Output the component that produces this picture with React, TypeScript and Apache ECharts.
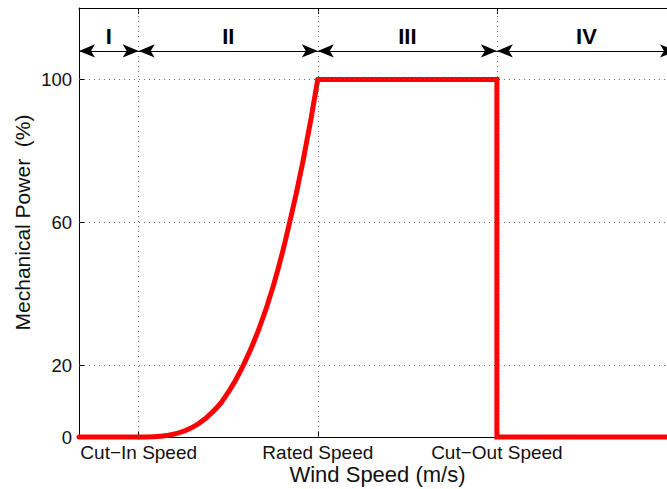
import { useEffect, useRef } from 'react';
import * as echarts from 'echarts';

// Axis marks
const speedMarks = [1, 4, 7];
const speedMarkLabels = ['Cut−In Speed', 'Rated Speed', 'Cut−Out Speed'];
const powerTicks = [0, 20, 60, 100];
const powerGrid = [20, 60, 100];
const speedRange = [0, 10];
const powerRange = [0, 120];

// Region I: below cut-in speed
const regionISpeed = [0, 1];
const regionIPower = [0, 0];
// Region II: cut-in to rated speed
const regionIISpeed = [1, 1.25, 1.5, 1.75, 2, 2.25, 2.5, 2.75, 3, 3.25, 3.5, 3.75, 4];
const regionIIPower = [0, 0.1, 0.5, 1.6, 3.7, 7.2, 12.5, 20, 29.6, 42, 58, 77, 100];
// Regions III and IV: rated output, then shutdown past cut-out
const regionIIISpeed = [4, 7, 7, 10];
const regionIIIPower = [100, 100, 0, 0];

// Operating regions annotated above the curve
const regionNames = ['I', 'II', 'III', 'IV'];
const regionBounds = [0, 1, 4, 7, 10];
const regionArrowLevel = 108;

const FONT = '"Liberation Sans", Arial, Helvetica, sans-serif';
const pairs = (xs: number[], ys: number[]) => xs.map((x, i) => [x, ys[i]]);

export default function App() {
  const ref = useRef<HTMLDivElement>(null);

  useEffect(() => {
    if (!ref.current) return;
    const chart = echarts.init(ref.current, null, { renderer: 'svg' });

    const speedLabel = (v: number) => {
      const i = speedMarks.indexOf(v);
      return i >= 0 ? speedMarkLabels[i] : '';
    };

    const redLine = {
      type: 'line',
      showSymbol: false,
      symbol: 'none',
      clip: false,
      z: 3,
      silent: true,
      lineStyle: { color: '#ff0000', width: 5, cap: 'round', join: 'miter' },
    };

    chart.setOption({
      animation: false,
      // the plot runs a little past the right edge of the page
      grid: {
        left: 79,
        top: 8,
        width: 597,
        height: 429,
        containLabel: false,
        outerBoundsMode: 'none',
      },
      xAxis: [
        {
          type: 'value',
          min: speedRange[0],
          max: speedRange[1],
          interval: 1,
          position: 'bottom',
          axisLine: { show: true, onZero: false, lineStyle: { color: '#000', width: 1 } },
          axisTick: { show: true, inside: true, length: 6, customValues: speedMarks, lineStyle: { color: '#000' } },
          axisLabel: {
            show: true,
            customValues: speedMarks,
            formatter: speedLabel,
            color: '#111',
            fontSize: 19,
            fontFamily: FONT,
            margin: 6,
          },
          splitLine: { show: false },
          name: 'Wind Speed (m/s)',
          nameLocation: 'middle',
          nameGap: 26,
          nameMoveOverlap: false,
          nameTextStyle: { fontSize: 22, color: '#111', fontFamily: FONT, lineHeight: 22 },
        },
        {
          type: 'value',
          min: speedRange[0],
          max: speedRange[1],
          interval: 1,
          position: 'top',
          axisLine: { show: true, onZero: false, lineStyle: { color: '#000', width: 1 } },
          axisTick: { show: true, inside: true, length: 6, customValues: speedMarks, lineStyle: { color: '#000' } },
          axisLabel: { show: false },
          splitLine: { show: false },
        },
      ],
      yAxis: {
        type: 'value',
        min: powerRange[0],
        max: powerRange[1],
        interval: 20,
        axisLine: { show: true, onZero: false, lineStyle: { color: '#000', width: 1 } },
        axisTick: { show: true, inside: true, length: 6, customValues: powerTicks, lineStyle: { color: '#000' } },
        axisLabel: {
          show: true,
          customValues: powerTicks,
          color: '#111',
          fontSize: 18.5,
          fontFamily: FONT,
          margin: 7,
        },
        splitLine: { show: false },
        name: 'Mechanical Power  (%)',
        nameLocation: 'middle',
        nameGap: 46,
        nameMoveOverlap: false,
        nameTextStyle: { fontSize: 21, color: '#111', fontFamily: FONT },
      },
      series: [
        {
          // dotted reference grid
          type: 'line',
          data: [],
          z: 1,
          silent: true,
          markLine: {
            silent: true,
            symbol: 'none',
            label: { show: false },
            emphasis: { disabled: true },
            lineStyle: { color: '#6a6a6a', width: 1, type: [1, 4] },
            data: [
              ...powerGrid.map((v) => ({ yAxis: v })),
              ...speedMarks.map((v) => ({ xAxis: v })),
            ],
          },
        },
        {
          // region arrows and numerals
          type: 'line',
          data: [],
          z: 2,
          silent: true,
          markLine: {
            silent: true,
            symbol: ['arrow', 'arrow'],
            symbolSize: [10, 16],
            itemStyle: { color: '#000' },
            emphasis: { disabled: true },
            lineStyle: { color: '#000', width: 1, type: 'solid' },
            label: {
              show: true,
              position: 'insideMiddleTop',
              distance: 3,
              formatter: (p: any) => p.name,
              fontSize: 22,
              fontWeight: 'bold',
              color: '#000',
              fontFamily: FONT,
            },
            data: regionNames.map((name, i) => [
              { name, coord: [regionBounds[i], regionArrowLevel] },
              { coord: [regionBounds[i + 1], regionArrowLevel] },
            ]),
          },
        },
        { ...redLine, data: pairs(regionISpeed, regionIPower) },
        { ...redLine, smooth: true, data: pairs(regionIISpeed, regionIIPower) },
        { ...redLine, data: pairs(regionIIISpeed, regionIIIPower) },
      ],
    });

    return () => chart.dispose();
  }, []);

  return (
    <div
      ref={ref}
      style={{ position: 'absolute', left: 0, top: 0, width: 667, height: 489, background: '#fff' }}
    />
  );
}
